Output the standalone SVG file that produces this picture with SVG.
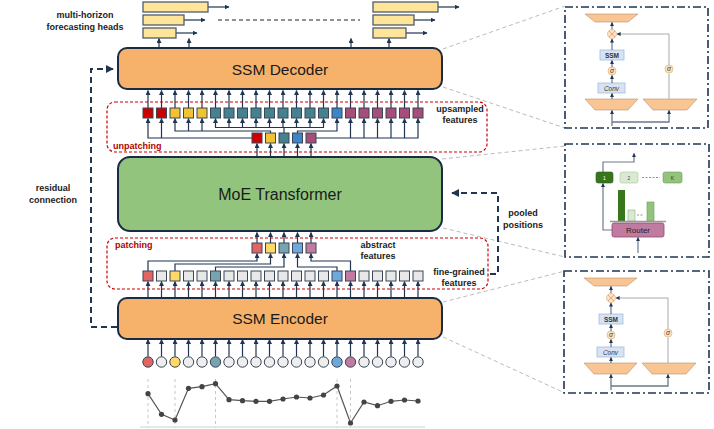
<svg xmlns="http://www.w3.org/2000/svg" width="714" height="429" viewBox="0 0 714 429">
<defs>
<marker id="ah" viewBox="0 0 10 10" refX="9" refY="5" markerWidth="5" markerHeight="5" markerUnits="userSpaceOnUse" orient="auto"><path d="M0,0 L10,5 L0,10 z" fill="#1f3552"/></marker>
<marker id="ahb" viewBox="0 0 10 10" refX="9" refY="5" markerWidth="8" markerHeight="8" markerUnits="userSpaceOnUse" orient="auto"><path d="M0,0 L10,5 L0,10 z" fill="#1f3552"/></marker>
<marker id="ahs" viewBox="0 0 10 10" refX="9" refY="5" markerWidth="4" markerHeight="4" markerUnits="userSpaceOnUse" orient="auto"><path d="M0,0 L10,5 L0,10 z" fill="#1f3552"/></marker>
<g id="panelInner">
<polygon class="trap" points="20,7 73,7 63,15 30,15"/>
<line class="pa" x1="47" y1="22.5" x2="47" y2="15.5"/>
<circle class="oc" cx="47" cy="27" r="4.5"/>
<path d="M44,24 L50,30 M50,24 L44,30" stroke="#d89a8a" stroke-width="0.8"/>
<rect class="ssm" x="35" y="43" width="24" height="10"/>
<text class="ptb" x="47" y="50.5">SSM</text>
<line class="pa" x1="47" y1="43" x2="47" y2="32"/>
<circle class="oc" cx="47" cy="64" r="4"/>
<text class="pti" x="47" y="66.3">σ</text>
<line class="pa" x1="47" y1="60" x2="47" y2="53.5"/>
<rect class="ssm" x="33" y="76" width="27" height="10"/>
<text class="pti" x="46.5" y="83.5">Conv</text>
<line class="pa" x1="47" y1="76" x2="47" y2="68.5"/>
<polygon class="trap" points="20,92 73,92 63,103 30,103"/>
<polygon class="trap" points="78,92 132,92 122,103 88,103"/>
<line class="pa" x1="47" y1="92" x2="47" y2="86.5"/>
<line class="gl" x1="104" y1="92" x2="104" y2="66.5"/>
<circle class="oc" cx="104" cy="62" r="4"/>
<text class="pti" x="104" y="64.3">σ</text>
<path class="gl" d="M104 58 V27 H52" marker-end="url(#ahs)"/>
<path class="inl" d="M47 119 V103.5" marker-end="url(#ahs)"/>
<path class="inl" d="M47 115 H104 V103.5" marker-end="url(#ahs)"/>
</g>
</defs>
<style>
.txt{font-family:"Liberation Sans",Arial,sans-serif}
.lbl{font-family:"Liberation Sans",Arial,sans-serif;font-weight:bold;font-size:9px;fill:#222;text-anchor:middle}
.red{font-family:"Liberation Sans",Arial,sans-serif;font-weight:bold;font-size:9px;fill:#b00000}
.big{font-family:"Liberation Sans",Arial,sans-serif;font-size:15.5px;fill:#1a1a1a;text-anchor:middle}
.box{stroke:#1c2b44;stroke-width:2}
.arr{stroke:#1f3552;stroke-width:1.2;fill:none;marker-end:url(#ah)}
.sq{stroke:#3a4656;stroke-width:1}
.head{fill:#ffe599;stroke:#4f5d6e;stroke-width:1.3}
.dbox{fill:none;stroke:#cc0000;stroke-width:1.2;stroke-dasharray:3,2}
.dash{fill:none;stroke:#1f3552;stroke-width:2;stroke-dasharray:6,4}
.gdash{stroke:#bbbbbb;stroke-width:1;stroke-dasharray:4,3}
.pbord{fill:none;stroke:#1f3552;stroke-width:1.6;stroke-dasharray:8,3,2,3}
.r{fill:#cc0000}.y{fill:#f1c232}.t{fill:#45818e}.b{fill:#3d85c6}.m{fill:#a64d79}.g{fill:#e8e8e8}
.rl{fill:#e06666}.yl{fill:#ffd966}.tl{fill:#76a5af}.bl{fill:#6fa8dc}.ml{fill:#c27ba0}.gc{fill:#eeeeee}
.trap{fill:#f8c593;stroke:#b89070;stroke-width:0.6}
.oc{fill:#fde3c0;stroke:#e2b27a;stroke-width:0.7}
.ssm{fill:#d7e3f4;stroke:#a4bde0;stroke-width:0.8}
.ptb{font-family:"Liberation Sans",Arial,sans-serif;font-weight:bold;font-size:6.5px;fill:#333;text-anchor:middle}
.pti{font-family:"Liberation Sans",Arial,sans-serif;font-style:italic;font-size:6.5px;fill:#333;text-anchor:middle}
.pa{stroke:#1f3552;stroke-width:0.8;marker-end:url(#ahs)}
.gl{stroke:#aaaaaa;stroke-width:1;fill:none}
.inl{stroke:#6b7a8c;stroke-width:1.3;fill:none}
.ts{fill:none;stroke:#555;stroke-width:1.2}
.tp{fill:#444}
.vd{stroke:#c8c8c8;stroke-width:1;stroke-dasharray:3,3}
</style>
<rect width="714" height="429" fill="#ffffff"/>

<!-- connectors -->
<g id="connectors">
<!-- gray zoom lines -->
<line class="gdash" x1="443" y1="49" x2="565" y2="6"/>
<line class="gdash" x1="443" y1="87" x2="565" y2="128"/>
<line class="gdash" x1="442" y1="159" x2="565" y2="146"/>
<line class="gdash" x1="443" y1="228" x2="565" y2="257"/>
<line class="gdash" x1="443" y1="302" x2="565" y2="271"/>
<line class="gdash" x1="443" y1="337" x2="565" y2="393"/>
<!-- residual & pooled -->
<path class="dash" d="M117 327 H91 V69 H113" marker-end="url(#ahb)"/>
<path class="dash" d="M490 274 H498 V193 H452" marker-end="url(#ahb)"/>
<!-- heads arrows -->
<line class="arr" x1="159" y1="48" x2="159" y2="38.5"/>
<line class="arr" x1="189" y1="48" x2="189" y2="38.5"/>
<line class="arr" x1="351" y1="48" x2="351" y2="38.5"/>
<line class="arr" x1="389" y1="48" x2="389" y2="38.5"/>
<line class="arr" x1="208" y1="7" x2="229" y2="7"/>
<line class="arr" x1="184" y1="20" x2="205" y2="20"/>
<line class="arr" x1="176" y1="33" x2="197" y2="33"/>
<line class="arr" x1="438" y1="7" x2="459" y2="7"/>
<line class="arr" x1="414" y1="20" x2="435" y2="20"/>
<line class="arr" x1="406" y1="33" x2="427" y2="33"/>
<line x1="218" y1="20" x2="360" y2="20" stroke="#222" stroke-width="1" stroke-dasharray="4,3"/>
<!-- upsampled -> decoder -->
<g class="arr">
<line x1="148" y1="108" x2="148" y2="90.5"/><line x1="161.5" y1="108" x2="161.5" y2="90.5"/><line x1="175" y1="108" x2="175" y2="90.5"/><line x1="188.5" y1="108" x2="188.5" y2="90.5"/><line x1="202" y1="108" x2="202" y2="90.5"/><line x1="215.5" y1="108" x2="215.5" y2="90.5"/><line x1="229" y1="108" x2="229" y2="90.5"/><line x1="242.5" y1="108" x2="242.5" y2="90.5"/><line x1="256" y1="108" x2="256" y2="90.5"/><line x1="269.5" y1="108" x2="269.5" y2="90.5"/><line x1="283" y1="108" x2="283" y2="90.5"/><line x1="296.5" y1="108" x2="296.5" y2="90.5"/><line x1="310" y1="108" x2="310" y2="90.5"/><line x1="323.5" y1="108" x2="323.5" y2="90.5"/><line x1="337" y1="108" x2="337" y2="90.5"/><line x1="350.5" y1="108" x2="350.5" y2="90.5"/><line x1="364" y1="108" x2="364" y2="90.5"/><line x1="377.5" y1="108" x2="377.5" y2="90.5"/><line x1="391" y1="108" x2="391" y2="90.5"/><line x1="404.5" y1="108" x2="404.5" y2="90.5"/><line x1="418" y1="108" x2="418" y2="90.5"/>
</g>
<!-- unpatching connections -->
<g class="arr">
<path d="M252 138 H148 V118.5"/><path d="M161.5 138 V118.5"/>
<path d="M270.5 133 V131 H175 V118.5"/><path d="M188.5 131 V118.5"/><path d="M202 131 V118.5"/>
<path d="M284 133 V127.5 H215.5 V118.5"/><path d="M284 127.5 H323.5 V118.5"/>
<path d="M229 127.5 V118.5"/><path d="M242.5 127.5 V118.5"/><path d="M256 127.5 V118.5"/><path d="M269.5 127.5 V118.5"/><path d="M283 127.5 V118.5"/><path d="M296.5 127.5 V118.5"/><path d="M310 127.5 V118.5"/>
<path d="M297.5 133 V131 H337 V118.5"/>
<path d="M316 138 H418 V118.5"/><path d="M350.5 138 V118.5"/><path d="M364 138 V118.5"/><path d="M377.5 138 V118.5"/><path d="M391 138 V118.5"/><path d="M404.5 138 V118.5"/>
<!-- MoE -> patched -->
<line x1="257" y1="157" x2="257" y2="143.5"/><line x1="270.5" y1="157" x2="270.5" y2="143.5"/><line x1="284" y1="157" x2="284" y2="143.5"/><line x1="297.5" y1="157" x2="297.5" y2="143.5"/><line x1="311" y1="157" x2="311" y2="143.5"/>
<!-- abstract -> MoE -->
<line x1="257" y1="243" x2="257" y2="232.5"/><line x1="270.5" y1="243" x2="270.5" y2="232.5"/><line x1="284" y1="243" x2="284" y2="232.5"/><line x1="297.5" y1="243" x2="297.5" y2="232.5"/><line x1="311" y1="243" x2="311" y2="232.5"/>
<!-- patching connections -->
<path d="M148 271 V261 H257 V253.5"/>
<path d="M175 271 V264 H270.5 V253.5"/>
<path d="M215.5 271 V267 H284 V253.5"/>
<path d="M337 271 V267 H297.5 V253.5"/>
<path d="M350.5 271 V261 H311 V253.5"/>
</g>
<!-- encoder -> fine -->
<g class="arr">
<line x1="148" y1="298" x2="148" y2="281.5"/><line x1="161.5" y1="298" x2="161.5" y2="281.5"/><line x1="175" y1="298" x2="175" y2="281.5"/><line x1="188.5" y1="298" x2="188.5" y2="281.5"/><line x1="202" y1="298" x2="202" y2="281.5"/><line x1="215.5" y1="298" x2="215.5" y2="281.5"/><line x1="229" y1="298" x2="229" y2="281.5"/><line x1="242.5" y1="298" x2="242.5" y2="281.5"/><line x1="256" y1="298" x2="256" y2="281.5"/><line x1="269.5" y1="298" x2="269.5" y2="281.5"/><line x1="283" y1="298" x2="283" y2="281.5"/><line x1="296.5" y1="298" x2="296.5" y2="281.5"/><line x1="310" y1="298" x2="310" y2="281.5"/><line x1="323.5" y1="298" x2="323.5" y2="281.5"/><line x1="337" y1="298" x2="337" y2="281.5"/><line x1="350.5" y1="298" x2="350.5" y2="281.5"/><line x1="364" y1="298" x2="364" y2="281.5"/><line x1="377.5" y1="298" x2="377.5" y2="281.5"/><line x1="391" y1="298" x2="391" y2="281.5"/><line x1="404.5" y1="298" x2="404.5" y2="281.5"/><line x1="418" y1="298" x2="418" y2="281.5"/>
</g>
<!-- circles -> encoder -->
<g class="arr">
<line x1="148" y1="356.5" x2="148" y2="339.5"/><line x1="161.5" y1="356.5" x2="161.5" y2="339.5"/><line x1="175" y1="356.5" x2="175" y2="339.5"/><line x1="188.5" y1="356.5" x2="188.5" y2="339.5"/><line x1="202" y1="356.5" x2="202" y2="339.5"/><line x1="215.5" y1="356.5" x2="215.5" y2="339.5"/><line x1="229" y1="356.5" x2="229" y2="339.5"/><line x1="242.5" y1="356.5" x2="242.5" y2="339.5"/><line x1="256" y1="356.5" x2="256" y2="339.5"/><line x1="269.5" y1="356.5" x2="269.5" y2="339.5"/><line x1="283" y1="356.5" x2="283" y2="339.5"/><line x1="296.5" y1="356.5" x2="296.5" y2="339.5"/><line x1="310" y1="356.5" x2="310" y2="339.5"/><line x1="323.5" y1="356.5" x2="323.5" y2="339.5"/><line x1="337" y1="356.5" x2="337" y2="339.5"/><line x1="350.5" y1="356.5" x2="350.5" y2="339.5"/><line x1="364" y1="356.5" x2="364" y2="339.5"/><line x1="377.5" y1="356.5" x2="377.5" y2="339.5"/><line x1="391" y1="356.5" x2="391" y2="339.5"/><line x1="404.5" y1="356.5" x2="404.5" y2="339.5"/><line x1="418" y1="356.5" x2="418" y2="339.5"/>
</g>
</g>

<!-- heads -->
<g id="heads-left">
<rect class="head" x="143" y="2" width="65" height="10"/>
<rect class="head" x="143" y="15" width="41" height="10"/>
<rect class="head" x="143" y="28" width="33" height="10"/>
</g>
<g id="heads-right">
<rect class="head" x="373" y="2" width="65" height="10"/>
<rect class="head" x="373" y="15" width="41" height="10"/>
<rect class="head" x="373" y="28" width="33" height="10"/>
</g>
<text class="lbl" x="85" y="18">multi-horizon</text>
<text class="lbl" x="85" y="29.5">forecasting heads</text>

<g id="decoder">
<rect class="box" x="118" y="48" width="324" height="41" rx="9" fill="#f6b26b"/>
<text class="big" x="280" y="74.5">SSM Decoder</text>
</g>

<g id="unpatching">
<rect class="dbox" x="107" y="102" width="380" height="50" rx="8"/>
<text class="red" x="113" y="149">unpatching</text>
<text class="lbl" x="460" y="112">upsampled</text>
<text class="lbl" x="460" y="123">features</text>
<g class="sq">
<rect class="r" x="143" y="108" width="10" height="10"/><rect class="r" x="156.5" y="108" width="10" height="10"/><rect class="y" x="170" y="108" width="10" height="10"/><rect class="y" x="183.5" y="108" width="10" height="10"/><rect class="y" x="197" y="108" width="10" height="10"/><rect class="t" x="210.5" y="108" width="10" height="10"/><rect class="t" x="224" y="108" width="10" height="10"/><rect class="t" x="237.5" y="108" width="10" height="10"/><rect class="t" x="251" y="108" width="10" height="10"/><rect class="t" x="264.5" y="108" width="10" height="10"/><rect class="t" x="278" y="108" width="10" height="10"/><rect class="t" x="291.5" y="108" width="10" height="10"/><rect class="t" x="305" y="108" width="10" height="10"/><rect class="t" x="318.5" y="108" width="10" height="10"/><rect class="b" x="332" y="108" width="10" height="10"/><rect class="m" x="345.5" y="108" width="10" height="10"/><rect class="m" x="359" y="108" width="10" height="10"/><rect class="m" x="372.5" y="108" width="10" height="10"/><rect class="m" x="386" y="108" width="10" height="10"/><rect class="m" x="399.5" y="108" width="10" height="10"/><rect class="m" x="413" y="108" width="10" height="10"/>
<rect class="r" x="252" y="133" width="10" height="10"/><rect class="y" x="265.5" y="133" width="10" height="10"/><rect class="t" x="279" y="133" width="10" height="10"/><rect class="b" x="292.5" y="133" width="10" height="10"/><rect class="m" x="306" y="133" width="10" height="10"/>
</g>
</g>

<g id="moe">
<rect class="box" x="118" y="157" width="324" height="74" rx="12" fill="#93c47d"/>
<text class="big" x="280" y="200" style="font-size:16px">MoE Transformer</text>
</g>
<text class="lbl" x="523" y="216">pooled</text>
<text class="lbl" x="523" y="227.5">positions</text>

<g id="patching">
<rect class="dbox" x="107" y="238" width="381" height="51" rx="8"/>
<text class="red" x="115" y="247.5">patching</text>
<text class="lbl" x="378" y="248">abstract</text>
<text class="lbl" x="378" y="259">features</text>
<text class="lbl" x="459" y="275">fine-grained</text>
<text class="lbl" x="459" y="286">features</text>
<g class="sq">
<rect class="rl" x="252" y="243" width="10" height="10"/><rect class="yl" x="265.5" y="243" width="10" height="10"/><rect class="tl" x="279" y="243" width="10" height="10"/><rect class="bl" x="292.5" y="243" width="10" height="10"/><rect class="ml" x="306" y="243" width="10" height="10"/>
<rect class="rl" x="143" y="271" width="10" height="10"/><rect class="g" x="156.5" y="271" width="10" height="10"/><rect class="yl" x="170" y="271" width="10" height="10"/><rect class="g" x="183.5" y="271" width="10" height="10"/><rect class="g" x="197" y="271" width="10" height="10"/><rect class="tl" x="210.5" y="271" width="10" height="10"/><rect class="g" x="224" y="271" width="10" height="10"/><rect class="g" x="237.5" y="271" width="10" height="10"/><rect class="g" x="251" y="271" width="10" height="10"/><rect class="g" x="264.5" y="271" width="10" height="10"/><rect class="g" x="278" y="271" width="10" height="10"/><rect class="g" x="291.5" y="271" width="10" height="10"/><rect class="g" x="305" y="271" width="10" height="10"/><rect class="g" x="318.5" y="271" width="10" height="10"/><rect class="bl" x="332" y="271" width="10" height="10"/><rect class="ml" x="345.5" y="271" width="10" height="10"/><rect class="g" x="359" y="271" width="10" height="10"/><rect class="g" x="372.5" y="271" width="10" height="10"/><rect class="g" x="386" y="271" width="10" height="10"/><rect class="g" x="399.5" y="271" width="10" height="10"/><rect class="g" x="413" y="271" width="10" height="10"/>
</g>
</g>

<g id="encoder">
<rect class="box" x="118" y="298" width="324" height="41" rx="9" fill="#f6b26b"/>
<text class="big" x="280" y="324">SSM Encoder</text>
</g>
<text class="lbl" x="53" y="191">residual</text>
<text class="lbl" x="53" y="202.5">connection</text>

<g id="inputs" class="sq">
<circle class="rl" cx="148" cy="362" r="5.2"/><circle class="gc" cx="161.5" cy="362" r="5.2"/><circle class="yl" cx="175" cy="362" r="5.2"/><circle class="gc" cx="188.5" cy="362" r="5.2"/><circle class="gc" cx="202" cy="362" r="5.2"/><circle class="tl" cx="215.5" cy="362" r="5.2"/><circle class="gc" cx="229" cy="362" r="5.2"/><circle class="gc" cx="242.5" cy="362" r="5.2"/><circle class="gc" cx="256" cy="362" r="5.2"/><circle class="gc" cx="269.5" cy="362" r="5.2"/><circle class="gc" cx="283" cy="362" r="5.2"/><circle class="gc" cx="296.5" cy="362" r="5.2"/><circle class="gc" cx="310" cy="362" r="5.2"/><circle class="gc" cx="323.5" cy="362" r="5.2"/><circle class="bl" cx="337" cy="362" r="5.2"/><circle class="ml" cx="350.5" cy="362" r="5.2"/><circle class="gc" cx="364" cy="362" r="5.2"/><circle class="gc" cx="377.5" cy="362" r="5.2"/><circle class="gc" cx="391" cy="362" r="5.2"/><circle class="gc" cx="404.5" cy="362" r="5.2"/><circle class="gc" cx="418" cy="362" r="5.2"/>
</g>

<g id="timeseries">
<line class="vd" x1="148" y1="379" x2="148" y2="428"/>
<line class="vd" x1="175" y1="379" x2="175" y2="428"/>
<line class="vd" x1="215.5" y1="379" x2="215.5" y2="428"/>
<line class="vd" x1="337" y1="379" x2="337" y2="428"/>
<line class="vd" x1="350.5" y1="379" x2="350.5" y2="428"/>
<line x1="140" y1="427" x2="425" y2="427" stroke="#d0d0d0" stroke-width="1"/>
<polyline class="ts" points="148,393.7 161.5,414.3 175,420 188.5,388.3 202,386.7 215.5,383.7 229,399.7 242.5,400.7 256,401.3 269.5,401.3 283,399 296.5,397 310,398 323.5,395 337,386 350.5,423 364,402 377.5,405.7 391,401.3 404.5,400 418,401"/>
<g class="tp">
<circle cx="148" cy="393.7" r="2.6"/><circle cx="161.5" cy="414.3" r="2.6"/><circle cx="175" cy="420" r="2.6"/><circle cx="188.5" cy="388.3" r="2.6"/><circle cx="202" cy="386.7" r="2.6"/><circle cx="215.5" cy="383.7" r="2.6"/><circle cx="229" cy="399.7" r="2.6"/><circle cx="242.5" cy="400.7" r="2.6"/><circle cx="256" cy="401.3" r="2.6"/><circle cx="269.5" cy="401.3" r="2.6"/><circle cx="283" cy="399" r="2.6"/><circle cx="296.5" cy="397" r="2.6"/><circle cx="310" cy="398" r="2.6"/><circle cx="323.5" cy="395" r="2.6"/><circle cx="337" cy="386" r="2.6"/><circle cx="350.5" cy="423" r="2.6"/><circle cx="364" cy="402" r="2.6"/><circle cx="377.5" cy="405.7" r="2.6"/><circle cx="391" cy="401.3" r="2.6"/><circle cx="404.5" cy="400" r="2.6"/><circle cx="418" cy="401" r="2.6"/>
</g>
</g>

<g id="panel-decoder">
<rect class="pbord" x="565" y="7" width="143" height="121"/>
<use href="#panelInner" transform="translate(565,7)"/>
</g>

<g id="panel-moe">
<rect class="pbord" x="565" y="144" width="144" height="113"/>
<path d="M612 230 H603 V183.5" stroke="#6b7a8c" stroke-width="1.2" fill="none" marker-end="url(#ahs)"/>
<path d="M603 172 V162 H634 V153.5" stroke="#6b7a8c" stroke-width="1.2" fill="none" marker-end="url(#ahs)"/>
<rect x="596" y="172" width="17" height="11" rx="2" fill="#38761d" stroke="#2a5a16" stroke-width="0.6"/>
<text class="txt" x="604.5" y="179.5" font-size="5" fill="#fff" text-anchor="middle">1</text>
<rect x="620" y="172" width="18" height="11" rx="2" fill="#d9ead3" stroke="#a8c79a" stroke-width="0.6"/>
<text class="txt" x="629" y="179.5" font-size="5" fill="#444" text-anchor="middle">2</text>
<line x1="642" y1="177.5" x2="660" y2="177.5" stroke="#777" stroke-width="0.8" stroke-dasharray="2,1.5"/>
<rect x="663" y="172" width="19" height="11" rx="2" fill="#93c47d" stroke="#6a9f57" stroke-width="0.6"/>
<text class="txt" x="672.5" y="179.5" font-size="5" fill="#333" text-anchor="middle">K</text>
<rect x="618" y="190" width="7" height="31" fill="#38761d"/>
<rect x="628" y="210" width="7" height="11" fill="#d9ead3" stroke="#8fb07f" stroke-width="0.6"/>
<line x1="637" y1="215" x2="644" y2="215" stroke="#777" stroke-width="0.8" stroke-dasharray="2,1.5"/>
<rect x="647" y="202" width="7" height="19" fill="#93c47d" stroke="#6a9f57" stroke-width="0.6"/>
<line x1="610" y1="221.5" x2="666" y2="221.5" stroke="#999" stroke-width="1.5"/>
<rect x="612" y="223" width="52" height="14" rx="2" fill="#c27ba0" stroke="#8c4a70" stroke-width="0.8"/>
<text class="txt" x="638" y="233" font-size="8" fill="#222" text-anchor="middle">Router</text>
<line x1="638" y1="253" x2="638" y2="237.5" stroke="#6b7a8c" stroke-width="1.2" marker-end="url(#ahs)"/>
</g>

<g id="panel-encoder">
<rect class="pbord" x="564" y="271" width="145" height="122"/>
<use href="#panelInner" transform="translate(564,271)"/>
</g>
</svg>
